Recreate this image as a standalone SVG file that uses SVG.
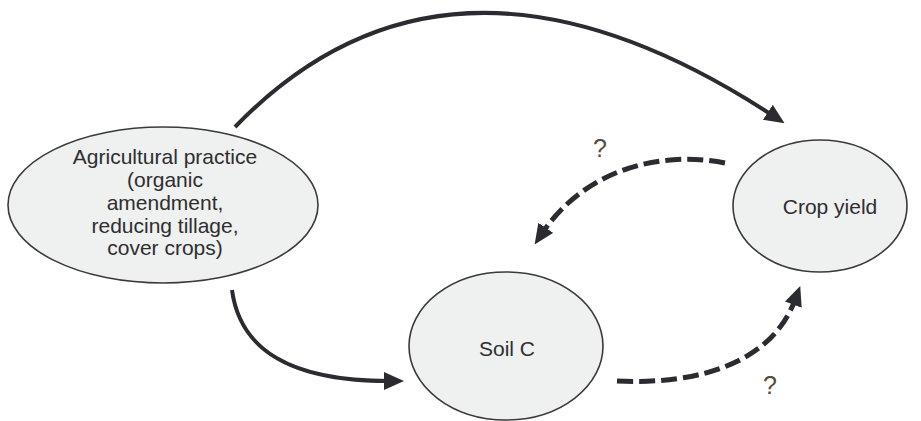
<svg xmlns="http://www.w3.org/2000/svg" width="921" height="421" viewBox="0 0 921 421">
<style>
.node{fill:#eff0f0;stroke:#3a3a3a;stroke-width:1.6}
.lbl{font-family:"Liberation Sans",Arial,sans-serif;font-size:21px;fill:#2e2e2e;text-anchor:middle}
.q{font-family:"Liberation Sans",Arial,sans-serif;font-size:25px;fill:#5a4a3a;text-anchor:middle}
.solid{fill:none;stroke:#2a2c31;stroke-width:4}
.dash{fill:none;stroke:#2a2c31;stroke-width:5;stroke-dasharray:16 6}
</style>
<defs>
<marker id="ah" markerUnits="userSpaceOnUse" markerWidth="20" markerHeight="20" viewBox="0 0 20 20" refX="5" refY="9" orient="auto">
<path d="M0,0 L20,9 L0,18 z" fill="#2a2c31"/>
</marker>
</defs>
<rect width="921" height="421" fill="#ffffff"/>
<g id="n-practice">
<ellipse class="node" cx="163" cy="205" rx="155" ry="78"/>
<text class="lbl" x="165" y="164">Agricultural practice</text>
<text class="lbl" x="165" y="187">(organic</text>
<text class="lbl" x="165" y="210">amendment,</text>
<text class="lbl" x="165" y="233">reducing tillage,</text>
<text class="lbl" x="165" y="255">cover crops)</text>
</g>
<g id="n-soil">
<ellipse class="node" cx="506" cy="346" rx="97" ry="74"/>
<text class="lbl" x="507" y="356">Soil C</text>
</g>
<g id="n-yield">
<ellipse class="node" cx="820" cy="206" rx="87" ry="66"/>
<text class="lbl" x="830" y="214">Crop yield</text>
</g>
<g id="connectors">
<path class="solid" d="M235,127 Q450,-95 772,115" marker-end="url(#ah)"/>
<path class="solid" d="M232,290 C240,350 290,381 389,381" marker-end="url(#ah)"/>
<path class="dash" d="M725,163 C660,150 585,170 543,232" marker-end="url(#ah)"/>
<path class="dash" d="M617,381 C700,385 772,362 795,300" marker-end="url(#ah)"/>
<text class="q" x="600" y="157">?</text>
<text class="q" x="770" y="394">?</text>
</g>
</svg>
